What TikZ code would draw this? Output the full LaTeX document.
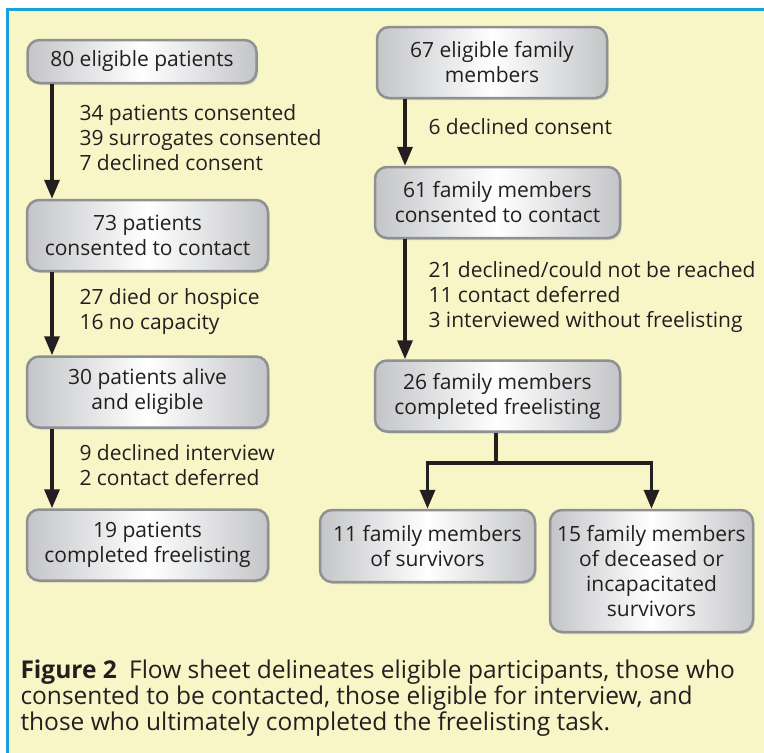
\documentclass[tikz,border=0pt]{standalone}
\usepackage{fontspec}
\setmainfont{Open Sans}
\usetikzlibrary{arrows.meta}
\usetikzlibrary{shadows}
\definecolor{sheet}{HTML}{F8F6C7}
\definecolor{rule}{HTML}{1BA1DA}
\definecolor{boxline}{HTML}{8F9092}
\definecolor{boxgray}{HTML}{C4C5C8}
\definecolor{ink}{HTML}{231F20}

\begin{document}
\begin{tikzpicture}[x=1pt,y=-1pt,>={Triangle[length=19pt,width=15pt]},
    every node/.style={font=\fontsize{21}{25}\selectfont,text=ink},
    box/.style={draw=boxline,line width=2.5pt,rounded corners=12pt,left color=boxgray,right color=boxgray,middle color=white,align=center,inner sep=0pt,drop shadow={opacity=0.3,shadow xshift=1.5pt,shadow yshift=-2pt}},
    flow/.style={->,line width=3.5pt,draw=ink},
    note/.style={anchor=west,align=left}]
    \useasboundingbox (0,0) rectangle (764,753);
    \fill[sheet] (7,9) rectangle (764,753);
    \draw[rule,line width=3pt] (7,753) -- (7,9) -- (764,9);
    \coordinate (lx) at (52,0); \coordinate (rx) at (405,0);
    % patients
    \node[box,minimum width=229,minimum height=43] (p1) at (142,61.5) {80 eligible patients};
    \node[box,minimum width=241,minimum height=71] (p2) at (147.5,235.5) {73 patients\\consented to contact};
    \node[box,minimum width=241,minimum height=71] (p3) at (147.5,392) {30 patients alive\\and eligible};
    \node[box,minimum width=241,minimum height=71] (p4) at (147.5,545) {19 patients\\completed freelisting};
    \node[note] (n1) at (76,138) {34 patients consented\\39 surrogates consented\\7 declined consent};
    \node[note] (n2) at (76,312) {27 died or hospice\\16 no capacity};
    \node[note] (n3) at (76,465) {9 declined interview\\2 contact deferred};
    \draw[flow] (p1.south -| lx) -- (p2.north -| lx);
    \draw[flow] (p2.south -| lx) -- (p3.north -| lx);
    \draw[flow] (p3.south -| lx) -- (p4.north -| lx);
    % family members
    \node[box,minimum width=230,minimum height=71] (f1) at (492,62.5) {67 eligible family\\members};
    \node[box,minimum width=245,minimum height=71] (f2) at (497.5,202.5) {61 family members\\consented to contact};
    \node[box,minimum width=245,minimum height=71] (f3) at (497.5,396) {26 family members\\completed freelisting};
    \node[box,minimum width=215,minimum height=72] (f4) at (427.5,546) {11 family members\\of survivors};
    \node[box,minimum width=203,minimum height=122] (f5) at (651.5,571) {15 family members\\of deceased or\\incapacitated\\survivors};
    \node[note] (n4) at (425,127) {6 declined consent};
    \node[note] (n5) at (425,297.5) {21 declined/could not be reached\\11 contact deferred\\3 interviewed without freelisting};
    \draw[flow] (f1.south -| rx) -- (f2.north -| rx);
    \draw[flow] (f2.south -| rx) -- (f3.north -| rx);
    \coordinate (fork) at (496,463);
    \draw[line width=3.5pt,draw=ink] (f3.south -| fork) -- (fork);
    \draw[flow] (fork) -| (f4.north);
    \draw[flow] (fork) -| (f5.north);
    % caption
    \node[anchor=west,align=left,font=\fontsize{24.5}{26}\selectfont] (cap) at (17,698) {\textbf{Figure 2}\enspace Flow sheet delineates eligible participants, those who\\consented to be contacted, those eligible for interview, and\\those who ultimately completed the freelisting task.};
\end{tikzpicture}
\end{document}
